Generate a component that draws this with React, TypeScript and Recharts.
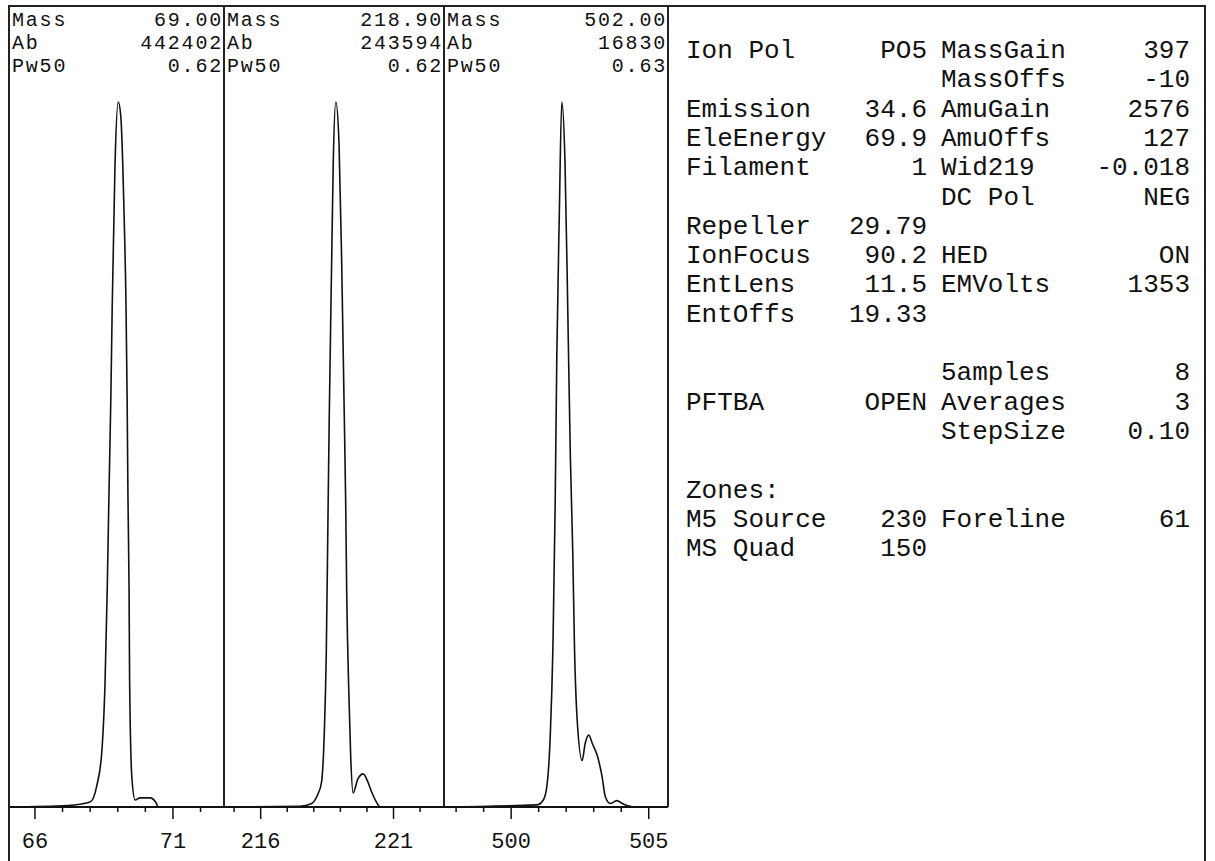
import * as React from 'react';
import { Line, LineChart, XAxis, YAxis } from 'recharts';

// tune report: three peak scans plus the parameter table

const peakMasses = ['69.00', '218.90', '502.00'];
const peakAbund = ['442402', '243594', '16830'];
const peakPw50 = ['0.62', '0.62', '0.63'];

const axisDomains: [number, number][] = [
  [65.06, 72.85],
  [214.62, 222.9],
  [497.56, 505.7]
];
const tickLabels = [
  [66, 71],
  [216, 221],
  [500, 505]
];

// profile of each scan, abundance in % of the peak top
const scan69Mass = [65.06, 67.2, 68.0, 68.24, 68.42, 68.54, 68.62, 68.68, 68.75, 68.8, 68.9, 69.02, 69.11, 69.23, 69.3, 69.34, 69.37, 69.41, 69.43, 69.51, 69.63, 69.81, 70.17, 70.39, 70.46, 72.85];
const scan69Abund = [0, 0.2, 0.7, 3, 7.7, 17.7, 31, 44, 58, 71, 91, 100, 98, 84, 71, 58, 44, 31, 18, 4.3, 1.0, 1.3, 1.3, 0.6, 0, 0];

const scan219Mass = [214.62, 217.48, 217.92, 218.15, 218.29, 218.39, 218.47, 218.53, 218.58, 218.67, 218.73, 218.83, 218.95, 219.05, 219.14, 219.2, 219.24, 219.32, 219.39, 219.48, 219.66, 219.86, 220.03, 220.17, 220.42, 220.48, 222.9];
const scan219Abund = [0, 0.1, 0.5, 1.8, 3.5, 10, 22, 40, 55, 77, 91, 100, 94, 77, 57, 43, 30, 16, 7, 2, 4, 4.7, 3.6, 2.2, 0.3, 0, 0];

const scan502Mass = [497.56, 500.93, 501.17, 501.3, 501.42, 501.52, 501.6, 501.66, 501.75, 501.84, 501.96, 502.06, 502.15, 502.24, 502.3, 502.39, 502.58, 502.69, 502.82, 502.95, 503.13, 503.3, 503.42, 503.6, 503.84, 504.04, 504.21, 504.51, 505.7];
const scan502Abund = [0, 0.3, 1, 3, 10, 23, 43, 64, 84, 100, 91, 70, 50, 36, 23, 13, 6.6, 9, 10.2, 9, 7.3, 4.4, 1.5, 0.5, 0.9, 0.5, 0.2, 0, 0];

// parameter table: [text row, label, value]
const leftParams: [number, string, string][] = [
  [0, 'Ion Pol', 'PO5'],
  [2, 'Emission', '34.6'],
  [3, 'EleEnergy', '69.9'],
  [4, 'Filament', '1'],
  [6, 'Repeller', '29.79'],
  [7, 'IonFocus', '90.2'],
  [8, 'EntLens', '11.5'],
  [9, 'EntOffs', '19.33'],
  [12, 'PFTBA', 'OPEN'],
  [15, 'Zones:', ''],
  [16, 'M5 Source', '230'],
  [17, 'MS Quad', '150']
];
const rightParams: [number, string, string][] = [
  [0, 'MassGain', '397'],
  [1, 'MassOffs', '-10'],
  [2, 'AmuGain', '2576'],
  [3, 'AmuOffs', '127'],
  [4, 'Wid219', '-0.018'],
  [5, 'DC Pol', 'NEG'],
  [7, 'HED', 'ON'],
  [8, 'EMVolts', '1353'],
  [11, '5amples', '8'],
  [12, 'Averages', '3'],
  [13, 'StepSize', '0.10'],
  [16, 'Foreline', '61']
];

const scans = [
  { mass: scan69Mass, abund: scan69Abund },
  { mass: scan219Mass, abund: scan219Abund },
  { mass: scan502Mass, abund: scan502Abund }
];

const W = 1215;
const H = 861;
const INK = '#111';
const FONT = '"Liberation Mono", "Courier New", monospace';
const panelEdges = [9, 224, 444, 668];
const AXIS_Y = 807;
const PLOT_TOP = 102;

function integerTicks([lo, hi]: [number, number]) {
  const out: number[] = [];
  for (let m = Math.ceil(lo); m <= hi; m++) out.push(m);
  return out;
}

function MassTick(props: any) {
  const { x, y, payload, labels } = props;
  const major = labels.includes(payload.value);
  return (
    <g>
      <line x1={x} x2={x} y1={y} y2={y + (major ? 12 : 5)} stroke={INK} strokeWidth={1.5} />
      {major && (
        <text x={x} y={y + 41} textAnchor="middle" fontFamily={FONT} fontSize={22} fill={INK}>
          {payload.value}
        </text>
      )}
    </g>
  );
}

function ScanPanel({ index }: { index: number }) {
  const left = panelEdges[index];
  const width = panelEdges[index + 1] - left;
  const scan = scans[index];
  const rows = scan.mass.map((m, i) => ({ mass: m, pct: scan.abund[i] }));
  const domain = axisDomains[index];
  return (
    <div style={{ position: 'absolute', left, top: 0 }}>
      <LineChart
        width={width}
        height={H}
        data={rows}
        margin={{ top: PLOT_TOP, right: 0, bottom: 0, left: 0 }}
      >
        <XAxis
          type="number"
          dataKey="mass"
          domain={domain}
          allowDataOverflow
          ticks={integerTicks(domain)}
          interval={0}
          height={H - AXIS_Y}
          tickSize={0}
          tickMargin={0}
          tickLine={false}
          axisLine={{ stroke: INK, strokeWidth: 2 }}
          tick={<MassTick labels={tickLabels[index]} />}
        />
        <YAxis hide domain={[0, 100]} />
        <Line
          type="monotone"
          dataKey="pct"
          stroke={INK}
          strokeWidth={1.6}
          dot={false}
          isAnimationActive={false}
        />
      </LineChart>
    </div>
  );
}

export default function App() {
  const headerRows = [
    ['Mass', peakMasses],
    ['Ab', peakAbund],
    ['Pw50', peakPw50]
  ] as const;
  const rowY = (r: number) => 58 + r * 29.3;
  return (
    <div style={{ position: 'absolute', left: 0, top: 0, width: W, height: H, background: '#fff', overflow: 'hidden' }}>
      {[0, 1, 2].map((i) => (
        <ScanPanel key={i} index={i} />
      ))}
      <svg width={W} height={H} style={{ position: 'absolute', left: 0, top: 0, pointerEvents: 'none' }}>
        <g stroke="#222" strokeWidth={2}>
          <line x1={8} x2={1206} y1={6} y2={6} />
          <line x1={9} x2={9} y1={6} y2={H} />
          <line x1={224} x2={224} y1={6} y2={AXIS_Y} />
          <line x1={444} x2={444} y1={6} y2={AXIS_Y} />
          <line x1={668} x2={668} y1={6} y2={AXIS_Y} />
          <line x1={1205} x2={1205} y1={6} y2={H} />
        </g>
        <g fontFamily={FONT} fontSize={20} letterSpacing={1.8} fill={INK}>
          {headerRows.map(([label, values], r) =>
            [0, 1, 2].map((i) => (
              <g key={`${r}-${i}`}>
                <text x={panelEdges[i] + 3} y={26 + r * 23}>{label}</text>
                <text x={panelEdges[i + 1] - 1} y={26 + r * 23} textAnchor="end">
                  {values[i]}
                </text>
              </g>
            ))
          )}
        </g>
        <g fontFamily={FONT} fontSize={26} fill={INK}>
          {leftParams.map(([r, label, value]) => (
            <g key={`l${r}`}>
              <text x={686} y={rowY(r)}>{label}</text>
              <text x={927} y={rowY(r)} textAnchor="end">{value}</text>
            </g>
          ))}
          {rightParams.map(([r, label, value]) => (
            <g key={`r${r}`}>
              <text x={941} y={rowY(r)}>{label}</text>
              <text x={1190} y={rowY(r)} textAnchor="end">{value}</text>
            </g>
          ))}
        </g>
      </svg>
    </div>
  );
}
